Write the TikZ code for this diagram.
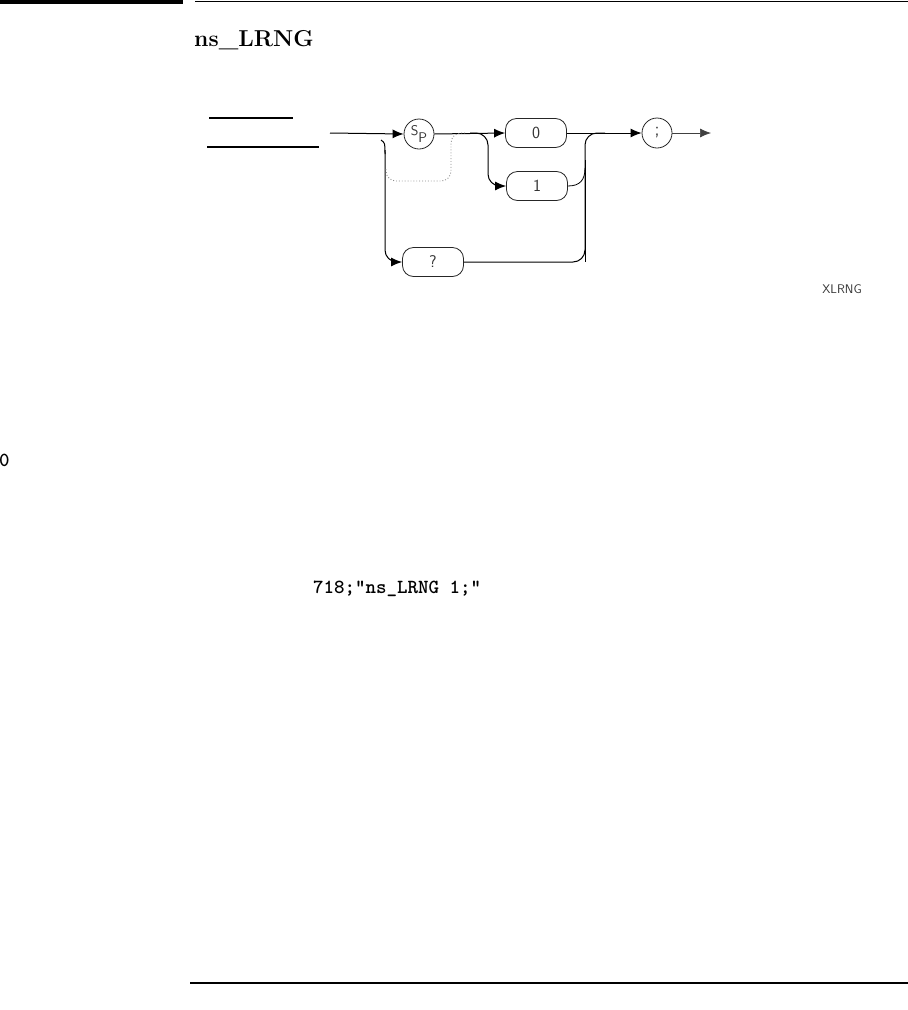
\documentclass[tikz,border=0pt]{standalone}
\usepackage{tikz}
\usetikzlibrary{arrows.meta, positioning, calc}

\begin{document}
\begin{tikzpicture}[
	x=1pt, y=-1pt,
	>={Latex[length=11pt, width=9pt]},
	term/.style={rectangle, rounded corners=11pt, draw=black!85, line width=0.8pt, minimum width=61pt, minimum height=29pt, inner sep=0pt, font=\sffamily\fontsize{17}{17}\selectfont, text=black!80},
	disc/.style={circle, draw=black!85, line width=0.8pt, minimum size=30pt, inner sep=0pt, font=\sffamily\fontsize{14}{14}\selectfont, text=black!80},
	flow/.style={->, line width=1pt, color=black},
	rail/.style={line width=1pt, color=black, rounded corners=12pt},
	ghost/.style={line width=0.9pt, color=black!45, dotted, rounded corners=10pt},
	rule/.style={line width=1.3pt, color=black}
	]

	% --- Page frame ---
	\useasboundingbox (0,0) rectangle (908,1010);
	\fill[black] (0,0) rectangle (183,4);
	\draw[rule] (195,1.5) -- (908,1.5);
	\draw[rule] (190,983) -- (908,983);

	% --- Heading and page text ---
	\node[anchor=base west, inner sep=0pt, font=\bfseries\fontsize{23}{23}\selectfont] (title) at (194,46) {ns\_LRNG};
	\node[anchor=west, inner sep=0pt, font=\ttfamily\bfseries\fontsize{20}{20}\selectfont] (cutzero) at (-1,460) {0};
	\node[anchor=west, inner sep=0pt, font=\ttfamily\bfseries\fontsize{20}{20}\selectfont] (example) at (313,589) {718;"ns\_LRNG 1;"};
	\node[inner sep=0pt, font=\sffamily\fontsize{12.5}{12.5}\selectfont, text=black!80] (figid) at (842,289) {XLRNG};

	% --- Underlines at left ---
	\draw[rule] (209,118) -- (293,118);
	\draw[rule] (207,147) -- (319,147);

	% --- Syntax elements ---
	\node[disc] (sp) at (419,134) {\raisebox{3pt}{S}\raisebox{-4pt}{P}};
	\node[term] (zero) at (536,133) {0};
	\node[term] (one) at (537,186) {1};
	\node[term] (query) at (433,262) {?};
	\node[disc, font=\sffamily\fontsize{19}{19}\selectfont] (semi) at (657,133) {;};

	\coordinate (entry) at (330,133);
	\coordinate (exit) at (711,133);
	\coordinate (splitone) at (470,133);
	\coordinate (splitsp) at (465,133);
	\coordinate (hook) at (381,140);
	\coordinate (merge) at (585,133);

	% --- Main line ---
	\draw[flow] (entry) -- (sp.west);
	\draw[flow] (sp.east) -- (zero.west);
	\draw[flow] (zero.east) -- (semi.west);
	\draw[->, line width=0.7pt, color=black!75] (semi.east) -- (exit);

	% --- Branches ---
	\draw[rail, ->] (splitone) -| (488,186) -- (one.west);
	\draw[line width=1pt] (hook) .. controls (385,143) .. (385,154);
	\draw[rail, ->] (385,150) |- (query.west);
	\draw[ghost] (splitsp) -| (451,181) -| (386,168);

	% --- Merge at right ---
	\draw[rail] (query.east) -| (merge) -- (605,133);
	\draw[line width=1pt] (merge |- 0,160) -- (585,262);
	\draw[line width=0.8pt] (one.east) .. controls (580,186) and (585,180) .. (585,168);

\end{tikzpicture}
\end{document}
